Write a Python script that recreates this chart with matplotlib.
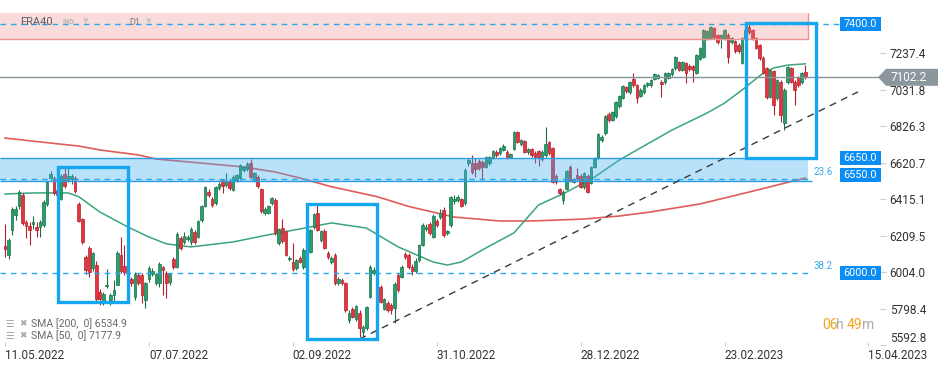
import matplotlib
matplotlib.use("Agg")
import matplotlib.pyplot as plt
from matplotlib.patches import Rectangle, Polygon
import numpy as np

plt.rcParams["font.family"] = ["Roboto", "DejaVu Sans"]

# daily candles, one per trading day, 11.05.2022 -> 28.03.2023
opens = [
    6150, 6101, 6241, 6324, 6377, 6439, 6290, 6262, 6275, 6258,
    6260, 6270, 6390, 6535, 6535, 6470, 6418, 6557, 6525, 6530,
    6535, 6390, 6305, 6090, 6140, 6027, 6045, 5895, 5840, 5925,
    5850, 5875, 5935, 6103, 6040, 5990, 5965, 5865, 5987, 5987,
    5846, 5965, 5994, 5945, 5942, 6033, 6002, 5951, 6079, 6035,
    6196, 6175, 6190, 6175, 6230, 6203, 6298, 6377, 6456, 6417,
    6394, 6479, 6524, 6495, 6512, 6467, 6518, 6535, 6580, 6586,
    6620, 6524, 6541, 6473, 6338, 6338, 6394, 6411, 6169, 6254,
    6231, 6080, 6062, 6028, 6085, 6034, 6130, 6118, 6260, 6338,
    6186, 6237, 6113, 6062, 6101, 5941, 5958, 5941, 5735, 5800,
    5740, 5777, 5668, 5690, 5865, 6000, 6000, 5921, 5797, 5830,
    5820, 5802, 5987, 5977, 6107, 6101, 6034, 6010, 6075, 6158,
    6248, 6276, 6203, 6293, 6315, 6355, 6226, 6270, 6405, 6411,
    6417, 6394, 6620, 6620, 6620, 6631, 6625, 6597, 6620, 6648,
    6681, 6676, 6692, 6681, 6653, 6698, 6794, 6726, 6743, 6681,
    6698, 6675, 6687, 6640, 6664, 6737, 6703, 6546, 6473, 6411,
    6473, 6597, 6512, 6552, 6546, 6484, 6546, 6507, 6597, 6648,
    6749, 6788, 6895, 6862, 6884, 6940, 6986, 7047, 7019, 7092,
    7058, 6997, 7019, 7058, 7058, 7092, 7097, 7075, 7075, 7097,
    7120, 7154, 7188, 7143, 7182, 7165, 7165, 7126, 7205, 7216,
    7323, 7323, 7380, 7340, 7318, 7323, 7340, 7300, 7306, 7284,
    7182, 7323, 7385, 7368, 7323, 7284, 7211, 7154, 6991, 7137,
    6986, 7075, 6844, 7075, 7154, 7075, 7103, 7075, 7131,
]
highs = [
    6276, 6195, 6372, 6380, 6470, 6450, 6300, 6290, 6320, 6290,
    6300, 6410, 6520, 6575, 6545, 6520, 6560, 6600, 6595, 6555,
    6545, 6400, 6310, 6100, 6150, 6120, 6065, 5910, 5895, 6022,
    5890, 5960, 6125, 6200, 6160, 6010, 5980, 6005, 6000, 6000,
    5950, 6040, 6030, 6000, 6064, 6040, 6010, 6000, 6090, 6230,
    6210, 6230, 6215, 6260, 6245, 6300, 6385, 6490, 6475, 6430,
    6490, 6510, 6530, 6563, 6530, 6550, 6560, 6615, 6605, 6625,
    6640, 6570, 6550, 6480, 6370, 6385, 6430, 6420, 6255, 6303,
    6240, 6095, 6169, 6080, 6095, 6140, 6210, 6250, 6340, 6395,
    6245, 6250, 6125, 6095, 6110, 5975, 5970, 5950, 5790, 5810,
    5820, 5790, 5705, 5815, 6045, 6035, 6010, 5935, 5860, 5845,
    5830, 5950, 6000, 6045, 6120, 6110, 6050, 6085, 6165, 6280,
    6275, 6290, 6330, 6305, 6360, 6370, 6245, 6435, 6440, 6440,
    6425, 6590, 6645, 6665, 6647, 6640, 6635, 6660, 6660, 6695,
    6690, 6710, 6725, 6690, 6675, 6800, 6800, 6755, 6750, 6705,
    6705, 6685, 6690, 6690, 6822, 6745, 6710, 6555, 6480, 6465,
    6580, 6610, 6535, 6590, 6555, 6570, 6555, 6605, 6655, 6790,
    6780, 6890, 6905, 6915, 6970, 7005, 7060, 7055, 7082, 7126,
    7065, 7040, 7065, 7075, 7092, 7128, 7122, 7085, 7133, 7133,
    7155, 7222, 7195, 7195, 7190, 7175, 7172, 7235, 7272, 7375,
    7370, 7392, 7388, 7348, 7345, 7375, 7350, 7330, 7315, 7295,
    7330, 7398, 7400, 7375, 7330, 7290, 7220, 7160, 7150, 7145,
    7095, 7085, 7040, 7165, 7160, 7085, 7110, 7130, 7171,
]
lows = [
    6090, 6080, 6215, 6300, 6360, 6270, 6195, 6160, 6250, 6200,
    6200, 6260, 6380, 6525, 6440, 6420, 6410, 6480, 6510, 6500,
    6450, 6285, 6165, 5995, 5977, 6010, 5830, 5820, 5820, 5915,
    5820, 5830, 5930, 6000, 5990, 5950, 5925, 5850, 5930, 5830,
    5803, 5950, 5985, 5930, 5923, 5876, 5860, 5930, 6025, 6030,
    6130, 6165, 6180, 6160, 6165, 6195, 6290, 6370, 6430, 6370,
    6385, 6470, 6450, 6485, 6470, 6460, 6510, 6525, 6570, 6575,
    6535, 6515, 6480, 6340, 6325, 6330, 6385, 6215, 6160, 6170,
    6095, 6070, 6010, 6015, 6055, 6025, 6120, 6110, 6250, 6235,
    6175, 6135, 6080, 6050, 5935, 5930, 5935, 5780, 5720, 5745,
    5730, 5640, 5640, 5680, 5860, 5990, 5940, 5830, 5790, 5780,
    5770, 5720, 5895, 5970, 6080, 6020, 5990, 6000, 6060, 6150,
    6235, 6215, 6195, 6260, 6305, 6205, 6215, 6260, 6390, 6400,
    6370, 6385, 6605, 6560, 6541, 6580, 6524, 6590, 6610, 6640,
    6655, 6665, 6685, 6640, 6645, 6690, 6730, 6715, 6675, 6670,
    6655, 6620, 6600, 6630, 6655, 6665, 6505, 6500, 6440, 6390,
    6465, 6515, 6505, 6520, 6478, 6475, 6450, 6500, 6590, 6640,
    6740, 6780, 6850, 6855, 6875, 6930, 6980, 7015, 7010, 7050,
    6957, 6990, 7010, 7050, 7050, 7085, 7090, 6990, 7065, 7090,
    7110, 7145, 7140, 7135, 7070, 7140, 7075, 7120, 7200, 7210,
    7315, 7318, 7320, 7290, 7267, 7315, 7180, 7290, 7240, 7240,
    7175, 7315, 7345, 7310, 7260, 7200, 7120, 6980, 6985, 6890,
    6975, 6850, 6805, 7065, 7070, 6946, 7050, 7065, 7095,
]
closes = [
    6133, 6186, 6360, 6360, 6457, 6282, 6262, 6240, 6290, 6245,
    6290, 6400, 6512, 6557, 6450, 6440, 6546, 6490, 6545, 6545,
    6460, 6294, 6175, 6017, 6005, 6110, 5855, 5855, 5880, 5935,
    5875, 5905, 6115, 6010, 6006, 5965, 5945, 5995, 5941, 5874,
    5941, 6026, 6013, 5993, 6051, 6017, 5946, 5993, 6032, 6218,
    6141, 6209, 6205, 6248, 6175, 6293, 6377, 6484, 6439, 6383,
    6484, 6501, 6490, 6512, 6479, 6540, 6552, 6608, 6597, 6614,
    6541, 6563, 6490, 6349, 6360, 6377, 6422, 6226, 6248, 6180,
    6101, 6085, 6022, 6073, 6062, 6130, 6200, 6242, 6333, 6242,
    6237, 6141, 6090, 6085, 5941, 5964, 5941, 5789, 5772, 5752,
    5814, 5693, 5696, 5808, 6034, 6017, 5950, 5837, 5853, 5791,
    5790, 5937, 5903, 6034, 6090, 6034, 6010, 6070, 6158, 6270,
    6259, 6225, 6321, 6270, 6338, 6214, 6237, 6428, 6417, 6428,
    6377, 6580, 6636, 6569, 6586, 6591, 6597, 6653, 6653, 6687,
    6664, 6703, 6715, 6647, 6670, 6794, 6737, 6749, 6681, 6698,
    6664, 6653, 6653, 6681, 6725, 6675, 6512, 6512, 6450, 6456,
    6575, 6524, 6529, 6529, 6484, 6563, 6456, 6597, 6648, 6783,
    6766, 6884, 6862, 6907, 6963, 6997, 7053, 7025, 7075, 7058,
    6986, 7030, 7058, 7069, 7086, 7120, 7115, 7064, 7126, 7126,
    7148, 7216, 7143, 7188, 7126, 7148, 7143, 7228, 7267, 7368,
    7362, 7385, 7329, 7300, 7340, 7368, 7216, 7323, 7250, 7250,
    7323, 7370, 7357, 7318, 7267, 7211, 7126, 6991, 7143, 6946,
    7086, 6890, 7030, 7160, 7075, 7030, 7058, 7126, 7103,
]

# moving averages as drawn on the chart (candle index -> value)
sma200_at = [0, 12, 21, 27, 38, 43, 56, 68, 77, 84, 93, 106, 115, 128, 141, 150, 165, 175, 184, 198, 212, 228]
sma200 = [6760, 6734, 6715, 6693, 6665, 6642, 6619, 6597, 6569, 6535, 6486, 6430, 6375, 6315, 6293, 6293,
          6304, 6321, 6344, 6389, 6456, 6535]
sma50_at = [0, 8, 18, 21, 27, 35, 41, 46, 53, 65, 75, 84, 93, 103, 112, 122, 126, 130, 137, 145, 152,
            160, 168, 175, 181, 190, 200, 205, 210, 216, 219, 223, 228]
sma50 = [6445, 6451, 6451, 6430, 6344, 6259, 6203, 6164, 6147, 6175, 6215, 6248, 6282, 6253, 6147, 6062,
         6045, 6062, 6141, 6226, 6383, 6456, 6541, 6636, 6704, 6805, 6901, 6957, 7031, 7126, 7155, 7171, 7178]
sma200_last = 6534.9
sma50_last = 7177.9

date_pos = [0, 41, 82, 123, 164, 205, 246]
date_labels = ["11.05.2022", "07.07.2022", "02.09.2022", "31.10.2022", "28.12.2022", "23.02.2023", "15.04.2023"]
price_ticks = [7237.4, 7031.8, 6826.3, 6620.7, 6415.1, 6209.5, 6004.0, 5798.4, 5592.8]

last_price = 7102.2
resistance = (7318, 7480)
support = (6518, 6650)
level_7400 = 7400
fib_levels = [(6530, "23.6"), (6000, "38.2")]
level_tags = [7400.0, 6650.0, 6550.0, 6000.0]
trend_at = [101, 243]
trend = [5628, 7020]
boxes = [(15, 35, 5837, 6597), (86, 106, 5628, 6389), (211, 231, 6648, 7408)]

# ---------------------------------------------------------------------------
W, H = 949, 370
fig = plt.figure(figsize=(W / 100, H / 100), dpi=100)
ax_l, ax_r, ax_t, ax_b = 0, 880, 13, 346
ax = fig.add_axes([ax_l / W, 1 - ax_b / H, (ax_r - ax_l) / W, (ax_b - ax_t) / H])

px_per_bar = 3.51
x0 = -5 / px_per_bar
ax.set_xlim(x0, x0 + (ax_r - ax_l) / px_per_bar)
ppx = 5.632  # points per pixel
ax.set_ylim(7237.4 - (ax_b - 53.3) * ppx, 7237.4 + (53.3 - ax_t) * ppx)

for s in ax.spines.values():
    s.set_visible(False)

green, green_e = "#27a06b", "#17704a"
red, red_e = "#e5333f", "#b3222c"
blue = "#15a6f0"

idx = np.arange(len(closes))
o = np.array(opens, float)
c = np.array(closes, float)
up = c >= o
ax.vlines(idx, lows, highs, colors=np.where(up, green_e, red_e), lw=0.8, zorder=3)
body = np.maximum(np.abs(c - o), 4)
ax.bar(idx, body, bottom=np.minimum(o, c), width=0.74,
       color=np.where(up, green, red), edgecolor=np.where(up, green_e, red_e), linewidth=0.5, zorder=3.5)

ax.plot(sma200_at, sma200, color="#e25c5c", lw=1.2, zorder=2.5)
ax.plot(sma50_at, sma50, color="#3aa57a", lw=1.1, zorder=2.5)

right_zone = 228.9
# resistance zone
ax.add_patch(Rectangle((x0, resistance[0]), right_zone - x0, resistance[1] - resistance[0],
                       facecolor="#f07f7f", alpha=0.28, edgecolor="none", zorder=4))
ax.plot([x0, right_zone, right_zone], [resistance[0], resistance[0], resistance[1]],
        color="#e99393", lw=1, zorder=4)
# support zone
ax.add_patch(Rectangle((x0, support[0]), right_zone - x0, support[1] - support[0],
                       facecolor="#3db0f2", alpha=0.36, edgecolor="none", zorder=4))
ax.hlines(support, x0, right_zone + 1, color="#2b9de0", lw=1, zorder=4)

# horizontal levels
ax.hlines(level_7400, x0, 237.5, color="#29a8ee", lw=1, linestyles=(0, (4, 3.5)), zorder=4)
for lv, txt in fib_levels:
    ax.hlines(lv, x0, right_zone + 1, color="#29a8ee", lw=1, linestyles=(0, (4, 3.5)), zorder=4)
    ax.text(right_zone + 1.4, lv + 12, txt, fontsize=7, color="#3aaaf0", va="bottom", ha="left", zorder=6)
ax.axhline(last_price, color="#86939a", lw=1, zorder=4)

# trend line and highlight boxes
ax.plot(trend_at, trend, color="#3a3a3a", lw=1, ls=(0, (5, 4)), zorder=5)
for a, b, lo, hi in boxes:
    ax.add_patch(Rectangle((a, lo), b - a, hi - lo, fill=False, edgecolor=blue, lw=2.4, zorder=6))

# axes ticks
ax.yaxis.tick_right()
ax.set_yticks(price_ticks)
ax.set_yticklabels([f"{v:.1f}" for v in price_ticks])
ax.tick_params(axis="y", length=4, color="#cfcfcf", pad=3, labelsize=8.5, labelcolor="#333333")
ax.get_yticklabels()[-1].set_verticalalignment("bottom")
ax.set_xticks(date_pos)
ax.set_xticklabels(date_labels, ha="left")
ax.tick_params(axis="x", length=3, direction="in", color="#cfcfcf", pad=2, labelsize=8.5, labelcolor="#333333")

fig.canvas.draw()


def fig_y(price):
    # figure-pixel y (from top) of a price on the axes
    return H - ax.transData.transform((0, price))[1]


# blue level tags on the right
for lv in level_tags:
    yc = fig_y(lv)
    fig.add_artist(Rectangle((840 / W, 1 - (yc + 7) / H), 41 / W, 14 / H, transform=fig.transFigure,
                             facecolor="#0b8cf2", edgecolor="none", zorder=10))
    fig.text(860.5 / W, 1 - yc / H, f"{lv:.1f}", color="white", fontsize=7.8, ha="center", va="center", zorder=11)

# last price tag
yc = fig_y(last_price)
pts = [(878, yc), (886, yc - 8.5), (938, yc - 8.5), (938, yc + 8.5), (886, yc + 8.5)]
fig.add_artist(Polygon([(x / W, 1 - y / H) for x, y in pts], closed=True, transform=fig.transFigure,
                       facecolor="#8b979c", edgecolor="none", zorder=10))
fig.text(909 / W, 1 - yc / H, f"{last_price:.1f}", color="white", fontsize=8.5, ha="center", va="center",
         zorder=11)

# header
fig.text(20 / W, 1 - 22 / H, "FRA40", fontsize=8, color="#5e5e5e", va="center")
fig.text(63 / W, 1 - 22.5 / H, "IND", fontsize=5.2, color="#b3b3b3", weight="bold", va="center")
fig.text(83 / W, 1 - 21 / H, "▾", fontsize=8, color="#c4c4c4", va="center", family="DejaVu Sans")
fig.text(129 / W, 1 - 22.5 / H, "D1", fontsize=6.5, color="#777777", va="center")
fig.text(146 / W, 1 - 21 / H, "▾", fontsize=8, color="#c4c4c4", va="center", family="DejaVu Sans")

# SMA legend
for yy, txt in [(324, f"SMA [200,  0] {sma200_last}"), (336, f"SMA [50,  0] {sma50_last}")]:
    fig.text(5 / W, 1 - yy / H, "☰", fontsize=7, color="#a9a9a9", va="center", family="DejaVu Sans")
    fig.text(19 / W, 1 - yy / H, "✖", fontsize=6.5, color="#a9a9a9", va="center", family="DejaVu Sans")
    fig.text(31 / W, 1 - yy / H, txt, fontsize=7.6, color="#6a6a6a", va="center")

# countdown
for xx, txt, col in [(822, "06", "#f5a21f"), (836, "h", "#aaaaaa"), (847, "49", "#f5a21f"), (862, "m", "#aaaaaa")]:
    fig.text(xx / W, 1 - 325 / H, txt, fontsize=10, color=col, va="center")

fig.savefig("out.png", dpi=100)
